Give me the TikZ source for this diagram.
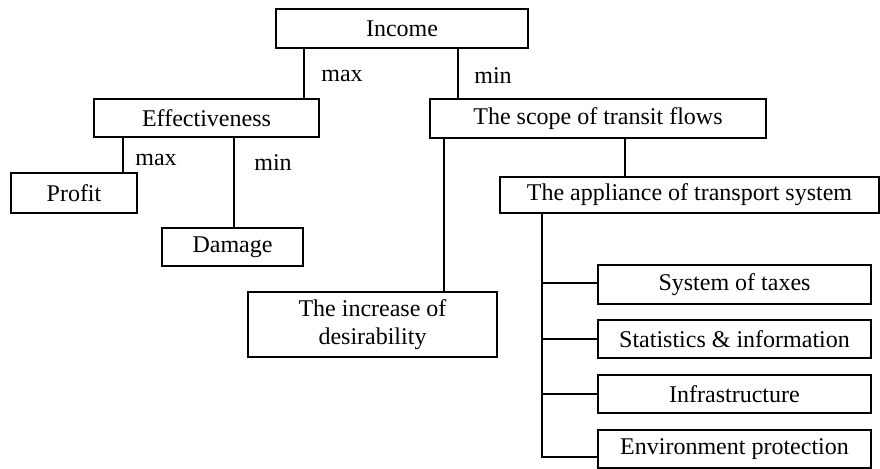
\documentclass[tikz,border=0pt]{standalone}
\usepackage{fontspec}
\setmainfont{Liberation Serif}
\begin{document}
\begin{tikzpicture}[x=0.5pt,y=-0.5pt,line width=0.8pt,
    blk/.style={draw,inner sep=0pt,align=center,font=\fontsize{12}{14}\selectfont},
    lbl/.style={inner sep=0pt,font=\fontsize{12}{14}\selectfont}]
\useasboundingbox (0,0) rectangle (880,469);

% boxes
\node[blk,minimum width=126pt,minimum height=19.5pt] (income) at (402,28.5) {Income};
\node[blk,minimum width=112.5pt,minimum height=19pt] (effect) at (206.5,118) {Effectiveness};
\node[blk,minimum width=168pt,minimum height=19.5pt] (scope) at (598,118.5) {The scope of transit flows};
\node[blk,minimum width=63pt,minimum height=20pt] (profit) at (74,193) {Profit};
\node[blk,minimum width=70.5pt,minimum height=19pt] (damage) at (232.5,247) {Damage};
\node[blk,minimum width=189.5pt,minimum height=18pt] (appl) at (689.5,195) {The appliance of transport system};
\node[blk,minimum width=124.5pt,minimum height=32.5pt] (incr) at (372.5,324.5) {The increase of\\desirability};
\node[blk,minimum width=136.5pt,minimum height=19.5pt] (taxes) at (734.5,284.5) {System of taxes};
\node[blk,minimum width=136.5pt,minimum height=19pt] (stats) at (734.5,339) {Statistics \& information};
\node[blk,minimum width=136.5pt,minimum height=19pt] (infra) at (734.5,394) {Infrastructure};
\node[blk,minimum width=136.5pt,minimum height=19pt] (env) at (734.5,449) {Environment protection};

% labels
\node[lbl] (max1) at (342,76) {max};
\node[lbl] (min1) at (493,76) {min};
\node[lbl] (max2) at (156,160) {max};
\node[lbl] (min2) at (273,163) {min};

% connectors
\coordinate (xa) at (304,0);
\coordinate (xb) at (458,0);
\coordinate (xc) at (123,0);
\coordinate (xd) at (234,0);
\coordinate (xe) at (444,0);
\coordinate (xf) at (625,0);
\coordinate (bus) at (542,0);
\draw (xa |- income.south) -- (xa |- effect.north);
\draw (xb |- income.south) -- (xb |- scope.north);
\draw (xc |- effect.south) -- (xc |- profit.north);
\draw (xd |- effect.south) -- (xd |- damage.north);
\draw (xe |- scope.south) -- (xe |- incr.north);
\draw (xf |- scope.south) -- (xf |- appl.north);
\draw (bus |- appl.south) |- ([yshift=-4pt]env.west);
\draw (bus |- 0,283) -- (taxes.west |- 0,283);
\draw (bus |- stats.west) -- (stats.west);
\draw (bus |- infra.west) -- (infra.west);
\end{tikzpicture}
\end{document}
